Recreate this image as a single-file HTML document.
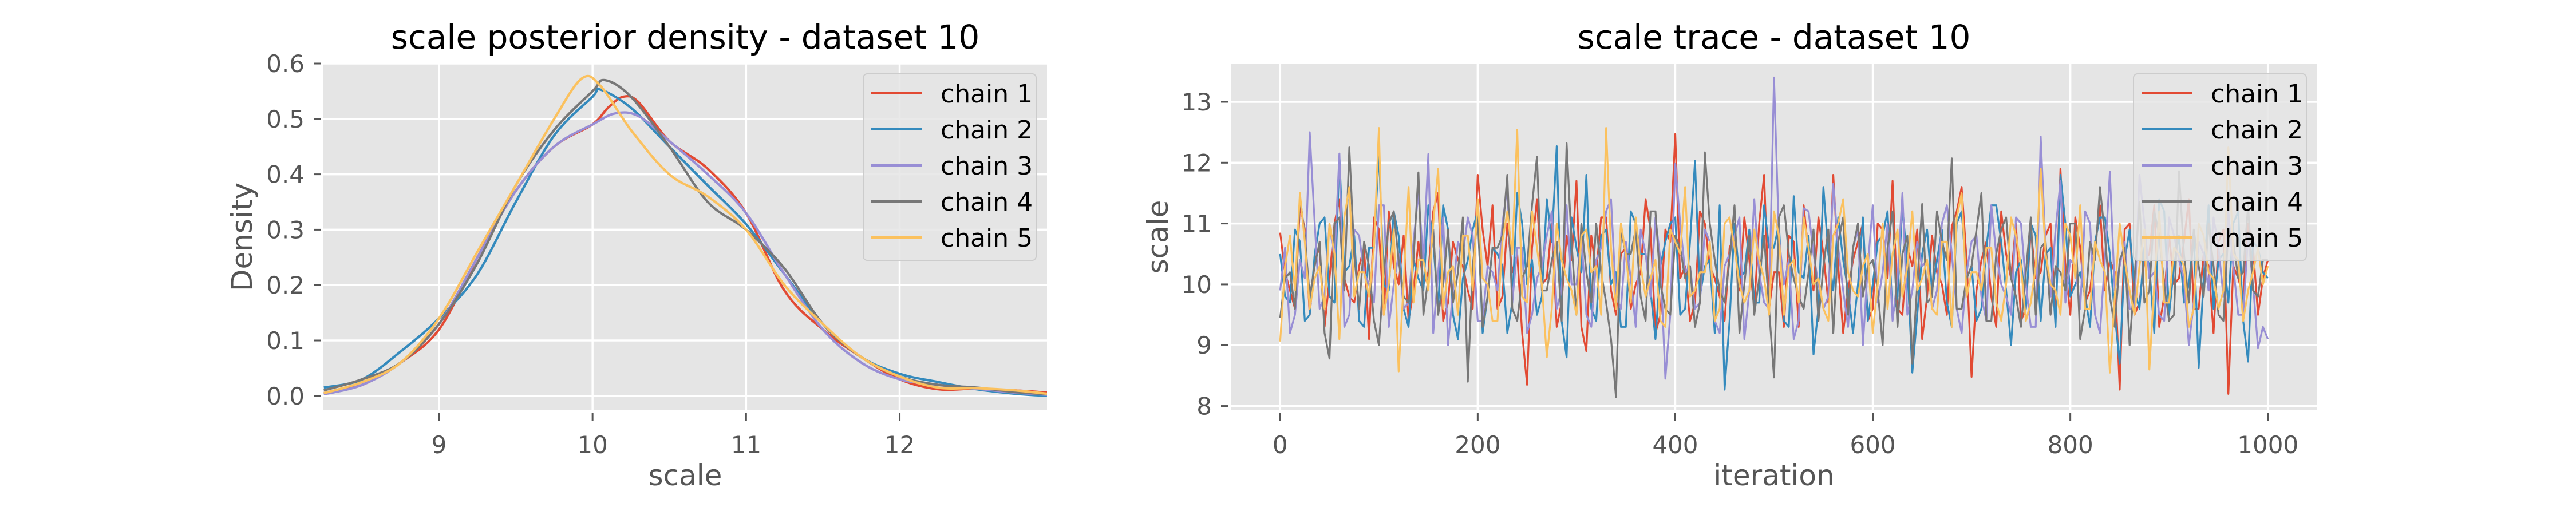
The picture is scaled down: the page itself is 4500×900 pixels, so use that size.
<!DOCTYPE html>
<html><head><meta charset="utf-8">
<style>
html,body{margin:0;padding:0;background:#fff;}
svg{display:block;font-family:"DejaVu Sans","Liberation Sans",sans-serif;}
</style></head>
<body>
<svg id="fig" width="4500" height="900" viewBox="0 0 4500 900" xmlns="http://www.w3.org/2000/svg">
<rect width="4500" height="900" fill="#fff"/>
<g id="left"></g>
<g id="right"></g>
</svg>
<script>
const chainNames = ["chain 1","chain 2","chain 3","chain 4","chain 5"];
const chainColors = ["#E24A33","#348ABD","#988ED5","#777777","#FBC15E"];

const densXTicks = [9,10,11,12];
const densYTicks = [0.0,0.1,0.2,0.3,0.4,0.5,0.6];
const densYTickLabels = ["0.0","0.1","0.2","0.3","0.4","0.5","0.6"];

const dens1x = [8.25,8.5,8.75,9,9.25,9.5,9.75,10,10.1,10.2,10.3,10.5,10.75,11,11.25,11.5,11.75,12,12.25,12.5,12.75,12.96];
const dens1y = [0.005,0.02,0.06,0.12,0.25,0.37,0.45,0.49,0.52,0.54,0.53,0.46,0.41,0.33,0.19,0.12,0.07,0.03,0.012,0.013,0.01,0.006];
const dens2x = [8.25,8.5,8.75,9,9.25,9.5,9.75,10,10.05,10.25,10.5,10.75,11,11.25,11.5,11.75,12,12.25,12.5,12.75,12.96];
const dens2y = [0.015,0.03,0.08,0.14,0.22,0.35,0.47,0.54,0.553,0.52,0.45,0.38,0.31,0.22,0.13,0.07,0.04,0.025,0.012,0.004,0.0];
const dens3x = [8.25,8.5,8.75,9,9.25,9.5,9.75,10,10.15,10.3,10.5,10.75,11,11.25,11.5,11.75,12,12.25,12.5,12.75,12.96];
const dens3y = [0.003,0.02,0.06,0.13,0.25,0.37,0.45,0.49,0.51,0.505,0.46,0.4,0.33,0.22,0.12,0.06,0.03,0.02,0.013,0.006,0.002];
const dens4x = [8.25,8.5,8.75,9,9.25,9.5,9.75,10,10.08,10.25,10.5,10.75,11,11.25,11.5,11.75,12,12.25,12.5,12.75,12.96];
const dens4y = [0.01,0.03,0.06,0.13,0.24,0.38,0.48,0.55,0.57,0.54,0.45,0.35,0.3,0.23,0.13,0.07,0.035,0.02,0.015,0.007,0.003];
const dens5x = [8.25,8.5,8.75,9,9.25,9.5,9.75,9.93,10.05,10.25,10.5,10.75,11,11.25,11.5,11.75,12,12.25,12.5,12.75,12.96];
const dens5y = [0.005,0.025,0.06,0.14,0.26,0.38,0.5,0.573,0.56,0.48,0.4,0.36,0.3,0.2,0.13,0.07,0.035,0.015,0.014,0.01,0.004];

const traceXTicks = [0,200,400,600,800,1000];
const traceYTicks = [8,9,10,11,12,13];
const traceIterMax = 1000;
const trace1 = [10.85,9.9,11.3,9.5,10.6,10.1,11.4,9.8,10.3,9.1,10.9,11.2,10.0,9.4,10.7,10.2,11.5,9.7,10.4,9.9,11.8,10.3,9.6,11.0,10.5,8.35,11.4,10.1,9.3,10.8,11.7,8.9,10.2,11.1,9.5,10.6,10.0,11.4,9.2,10.9,12.47,10.3,9.7,11.0,10.1,9.4,10.8,11.1,9.6,11.8,10.2,9.3,10.7,11.3,9.9,10.5,11.8,9.2,10.4,11.0,9.6,10.9,11.7,9.5,10.3,9.1,10.8,10.0,10.95,11.6,8.48,10.4,9.8,11.2,10.1,9.4,10.9,10.2,11.0,11.9,9.5,10.6,9.9,11.3,10.4,8.27,11.0,9.7,10.5,9.3,10.8,10.1,11.4,9.6,10.3,10.7,8.2,10.1,11.0,9.5,10.4];
const trace1b = [10.2,9.6,10.9,10.4,9.3,11.0,10.1,9.7,10.6,11.1,9.5,10.3,10.8,9.9,10.0,11.2,9.4,10.7,10.3,9.6,10.9,11.3,9.8,10.2,9.2,10.6,10.0,11.0,9.7,10.4,9.3,10.8,11.1,9.9,10.5,9.6,10.2,10.9,9.5,10.7,10.1,9.4,11.2,10.3,9.8,10.6,9.9,10.4,11.0,9.6,10.2,10.8,9.3,10.5,11.1,9.7,10.3,9.9,10.7,9.4,11.0,10.1,9.6,10.6,10.9,9.8,10.2,9.5,11.2,10.4,9.9,10.7,9.3,10.5,11.0,9.6,10.1,10.8,9.4,10.3,11.1,9.7,10.6,9.9,10.2,10.9,9.5,10.4,11.3,9.8,10.0,10.7,9.6,10.5,9.2,10.9,10.3,9.8,10.6,10.1];
const trace2 = [10.5,9.7,10.7,9.5,11.0,9.8,12.1,10.3,9.4,10.6,12.2,9.9,10.8,9.3,10.1,11.3,9.6,10.9,9.1,10.4,11.2,9.8,10.5,9.2,11.5,10.0,9.5,11.4,12.27,8.8,10.6,11.8,9.4,10.9,10.2,9.3,11.0,10.5,9.1,10.7,11.1,9.6,12.03,10.3,9.2,8.27,11.0,10.2,9.7,11.3,10.6,9.4,11.45,10.1,8.85,11.6,9.9,10.4,9.2,11.1,10.0,10.8,9.5,11.3,8.55,10.5,9.9,10.9,9.3,11.2,10.3,9.6,11.3,10.7,9.0,10.4,11.0,9.4,10.6,11.8,9.8,10.2,9.3,11.1,10.5,8.7,10.9,9.6,10.3,11.4,9.5,10.8,10.0,8.63,11.3,10.4,9.7,11.2,8.73,10.6,10.1];
const trace2b = [9.8,10.9,9.4,10.5,11.1,9.7,10.2,10.8,9.3,10.6,10.0,11.2,9.6,10.4,9.9,10.7,11.3,9.5,10.1,10.9,9.2,10.6,10.3,9.7,11.0,10.4,9.8,10.7,9.4,11.1,10.2,9.6,10.8,10.0,9.3,11.2,10.5,9.9,10.3,11.0,9.5,10.7,9.8,10.4,11.3,9.4,10.1,10.9,9.7,10.6,11.0,9.3,10.2,10.8,9.6,10.5,11.1,9.9,10.0,9.4,10.7,11.2,9.8,10.3,9.5,10.9,10.4,9.7,11.0,10.1,9.4,10.6,11.3,9.9,10.2,9.6,10.8,10.5,9.3,11.0,10.0,9.8,10.7,11.1,9.5,10.4,9.9,10.6,9.2,11.2,10.3,9.7,10.8,10.1,9.6,10.5,11.0,9.4,10.7,10.2];
const trace3 = [9.9,9.2,10.4,12.5,9.6,11.0,12.15,9.5,10.8,10.0,11.3,9.3,10.5,9.7,11.5,12.14,10.2,9.0,10.7,11.1,9.4,10.3,9.9,11.6,10.6,9.2,10.1,10.8,9.6,11.3,10.0,9.5,10.4,11.2,9.8,10.7,9.3,10.5,11.1,8.45,11.98,10.2,9.6,10.9,9.4,10.3,10.8,9.1,11.4,9.7,13.4,10.0,9.1,11.25,10.5,9.6,11.65,9.9,10.6,9.0,11.3,10.2,9.4,11.5,9.9,10.3,9.6,11.0,10.5,9.2,10.7,9.8,11.3,10.0,9.5,11.0,9.3,12.43,9.8,11.7,10.4,9.6,11.0,9.2,11.85,10.3,9.6,11.8,10.1,9.5,11.1,10.4,9.0,10.7,9.9,10.6,11.2,9.5,10.8,8.95,9.1];
const trace3b = [10.6,9.5,10.1,11.0,9.8,10.4,9.3,10.9,10.2,9.7,11.3,10.0,9.6,10.7,10.4,9.2,11.1,9.9,10.5,10.8,9.4,10.2,11.0,9.7,10.6,9.5,10.3,11.2,9.9,10.0,10.8,9.3,10.6,11.4,9.6,10.1,10.9,9.8,10.4,9.5,11.0,10.3,9.7,10.7,9.2,10.5,11.1,9.9,10.2,9.6,10.8,10.4,9.4,11.2,10.0,9.8,10.6,9.3,10.9,10.3,9.7,11.0,10.1,9.5,10.7,10.4,9.9,11.3,9.6,10.2,10.8,9.4,10.5,9.8,11.1,10.0,9.3,10.6,10.9,9.7,10.3,11.2,9.5,10.4,9.9,10.7,9.6,11.0,10.2,9.4,10.8,10.1,9.7,10.5,11.1,9.8,10.3,9.5,10.0,9.3];
const trace4 = [9.45,10.2,11.45,9.8,10.7,8.78,11.1,12.25,9.6,10.3,9.0,11.0,10.4,9.7,11.84,10.1,9.5,10.9,10.2,8.4,11.1,9.8,10.6,11.8,9.4,10.3,12.1,9.9,10.7,12.32,9.5,10.2,11.0,9.7,8.15,10.5,10.9,9.4,11.2,9.6,10.8,10.1,9.3,12.17,10.4,9.7,11.3,10.0,9.5,10.8,8.47,11.3,10.1,9.6,10.9,10.3,9.2,11.1,10.6,9.8,10.4,9.0,11.2,10.5,8.7,11.32,9.8,10.7,12.07,9.6,10.3,11.5,9.4,10.9,10.1,9.3,11.1,10.6,9.5,10.2,11.0,9.1,10.7,11.6,9.8,10.4,9.0,11.35,9.9,10.8,9.4,11.86,9.7,10.3,11.0,9.5,10.9,10.1,11.3,9.8,10.4];
const trace4b = [10.1,9.6,10.8,10.3,9.2,11.0,9.9,10.5,10.7,9.4,10.2,11.2,9.8,10.4,9.5,10.9,10.0,9.7,11.1,10.3,9.3,10.6,10.8,9.6,10.1,11.3,9.9,10.4,9.4,10.7,11.0,9.7,10.2,9.1,10.9,10.5,9.8,11.2,10.0,9.5,10.6,10.3,9.7,11.0,9.9,10.4,9.2,10.8,10.1,9.6,11.1,10.5,9.8,10.2,9.4,10.9,10.7,9.5,11.0,10.3,9.9,10.6,9.3,10.8,10.0,9.7,11.2,10.4,9.6,10.1,10.9,9.4,10.5,11.1,9.8,10.2,9.5,10.7,10.3,9.9,11.0,9.6,10.4,10.8,9.3,10.6,10.1,9.7,11.2,10.0,9.5,10.5,10.9,9.8,10.3,9.4,10.7,10.2,9.9,10.4];
const trace5 = [9.06,10.8,11.5,9.6,10.3,11.0,9.1,11.6,10.2,9.8,12.57,10.0,8.57,11.6,10.4,9.9,11.9,10.2,9.5,10.8,11.4,10.0,9.4,11.2,12.54,9.7,10.6,8.8,11.0,10.1,9.5,10.9,10.3,12.57,9.6,10.5,11.1,9.8,10.4,9.3,10.7,11.6,9.9,10.2,9.4,11.0,10.6,9.7,10.9,10.1,11.2,9.5,10.4,11.1,10.0,9.6,10.8,11.4,9.9,10.3,9.2,11.0,10.5,9.8,11.2,10.1,9.6,10.7,9.3,11.5,10.2,9.9,10.6,9.4,11.1,10.3,9.7,11.9,10.0,9.5,10.8,11.3,9.6,10.4,8.55,11.0,9.9,10.3,8.6,11.2,9.7,10.5,9.3,11.0,10.2,9.6,12.25,10.4,9.9,10.6,10.3];
const trace5b = [10.3,9.9,10.7,10.1,9.6,10.5,11.1,9.8,10.2,10.6,9.5,10.9,10.0,9.7,10.4,11.0,9.6,10.3,10.8,9.9,10.1,9.4,10.7,10.5,9.8,11.2,10.0,9.6,10.4,9.9,10.8,10.2,9.5,10.6,11.0,9.7,10.3,10.1,9.4,10.9,10.5,9.8,10.2,10.7,9.6,11.1,10.0,9.9,10.4,9.5,10.8,10.3,9.7,10.6,10.1,9.4,11.0,10.2,9.8,10.5,10.0,9.6,10.9,10.3,9.9,10.4,9.5,10.7,11.1,9.8,10.2,10.6,9.7,10.0,10.8,9.4,10.3,10.5,9.9,11.0,10.1,9.6,10.7,10.2,9.8,10.4,9.5,10.9,10.0,9.7,10.6,10.3,9.6,10.8,10.1,9.9,10.5,9.4,10.2,10.0];

const NS = "http://www.w3.org/2000/svg";
function mk(parent, tag, attrs, text){
  const e = document.createElementNS(NS, tag);
  for (const k in attrs) e.setAttribute(k, attrs[k]);
  if (text !== undefined) e.textContent = text;
  parent.appendChild(e);
  return e;
}
function smoothPath(pts){
  let d = "M" + pts[0][0].toFixed(1) + "," + pts[0][1].toFixed(1);
  for (let i=0;i<pts.length-1;i++){
    const p0 = pts[i-1]||pts[i], p1=pts[i], p2=pts[i+1], p3=pts[i+2]||pts[i+1];
    const c1x = p1[0]+(p2[0]-p0[0])/6, c1y = p1[1]+(p2[1]-p0[1])/6;
    const c2x = p2[0]-(p3[0]-p1[0])/6, c2y = p2[1]-(p3[1]-p1[1])/6;
    d += " C"+c1x.toFixed(1)+","+c1y.toFixed(1)+" "+c2x.toFixed(1)+","+c2y.toFixed(1)+" "+p2[0].toFixed(1)+","+p2[1].toFixed(1);
  }
  return d;
}
function interleave(a, b){
  const out = [];
  for (let i=0;i<a.length;i++){ out.push(a[i]); if (i < b.length) out.push(b[i]); }
  return out;
}

function panel(g, o){
  const X = v => o.L + (v - o.xmin)/(o.xmax - o.xmin)*(o.R - o.L);
  const Y = v => o.B - (v - o.ymin)/(o.ymax - o.ymin)*(o.B - o.T);
  const bg = mk(g,"rect",{x:o.L,y:o.T,width:o.R-o.L,height:o.B-o.T,fill:"#E5E5E5"});
  
  
  o.xt.forEach((t,i)=>{
    const x = X(t);
    const gl = mk(g,"line",{x1:x,x2:x,y1:o.T,y2:o.B,stroke:"#fff","stroke-width":3.5});
    
    
    const tk = mk(g,"line",{x1:x,x2:x,y1:o.B+5,y2:o.B+18,stroke:"#555","stroke-width":3});
    
    
    const lb = mk(g,"text",{x:x,y:o.B+75,"text-anchor":"middle","font-size":42,fill:"#555"}, o.xtl ? o.xtl[i] : String(t));
    
    
  });
  o.yt.forEach((t,i)=>{
    const y = Y(t);
    const gl = mk(g,"line",{x1:o.L,x2:o.R,y1:y,y2:y,stroke:"#fff","stroke-width":3.5});
    
    
    const tk = mk(g,"line",{x1:o.L-17,x2:o.L-4,y1:y,y2:y,stroke:"#555","stroke-width":3});
    
    
    const lb = mk(g,"text",{x:o.L-33,y:y+15,"text-anchor":"end","font-size":42,fill:"#555"}, o.ytl ? o.ytl[i] : String(t));
    
    
  });
  const clipId = o.prefix+"-clip";
  const cp = mk(mk(g,"defs",{}),"clipPath",{id:clipId});
  mk(cp,"rect",{x:o.L,y:o.T,width:o.R-o.L,height:o.B-o.T});
  const lines = mk(g,"g",{"clip-path":"url(#"+clipId+")"});
  
  
  o.series.forEach((s,k)=>{
    const pts = s.x.map((xv,i)=>[X(xv), Y(s.y[i])]);
    const d = o.smooth ? smoothPath(pts) : "M"+pts.map(p=>p[0].toFixed(1)+","+p[1].toFixed(1)).join(" L");
    const p = mk(lines,"path",{d:d,fill:"none",stroke:chainColors[k],"stroke-width":o.lw,"stroke-linejoin":"round"});
    
    
  });
  const lx = o.R-321, ly = o.T+18;
  const lg = mk(g,"g",{});
  
  
  mk(lg,"rect",{x:lx,y:ly,width:302,height:326,rx:7,fill:"#E5E5E5","fill-opacity":0.85,stroke:"#cccccc","stroke-width":2});
  chainNames.forEach((n,k)=>{
    const yy = ly+34+k*63;
    const e = mk(lg,"g",{});
    
    
    mk(e,"line",{x1:lx+14,x2:lx+102,y1:yy,y2:yy,stroke:chainColors[k],"stroke-width":4});
    mk(e,"text",{x:lx+135,y:yy+16,"font-size":44,fill:"#000"},n);
  });
  const t = mk(g,"text",{x:(o.L+o.R)/2,y:85,"text-anchor":"middle","font-size":58,fill:"#000"},o.title);
  
  
  const xl = mk(g,"text",{x:(o.L+o.R)/2,y:848,"text-anchor":"middle","font-size":50,fill:"#555"},o.xlabel);
  
  
  const yc = (o.T+o.B)/2;
  const yl = mk(g,"text",{x:o.ylx,y:yc,"text-anchor":"middle","font-size":50,fill:"#555",transform:"rotate(-90 "+o.ylx+" "+yc+")"},o.ylabel);
  
  
}

panel(document.getElementById("left"),{
  prefix:"density", L:565, R:1829, T:111, B:717,
  xmin:8.247, xmax:12.96, ymin:-0.026, ymax:0.6,
  xt:densXTicks, yt:densYTicks, ytl:densYTickLabels,
  series:[{x:dens1x,y:dens1y},{x:dens2x,y:dens2y},{x:dens3x,y:dens3y},{x:dens4x,y:dens4y},{x:dens5x,y:dens5y}],
  smooth:true, lw:4.2,
  title:"scale posterior density - dataset 10", xlabel:"scale", ylabel:"Density", ylx:440
});
const traces = [interleave(trace1,trace1b),interleave(trace2,trace2b),interleave(trace3,trace3b),interleave(trace4,trace4b),interleave(trace5,trace5b)];
panel(document.getElementById("right"),{
  prefix:"trace", L:2150, R:4048, T:111, B:717,
  xmin:-50, xmax:1050, ymin:7.93, ymax:13.63,
  xt:traceXTicks, yt:traceYTicks,
  series:traces.map(tr=>({x:tr.map((v,i)=>i*traceIterMax/(tr.length-1)), y:tr})),
  smooth:false, lw:3.2,
  title:"scale trace - dataset 10", xlabel:"iteration", ylabel:"scale", ylx:2040
});
</script>
</body></html>
